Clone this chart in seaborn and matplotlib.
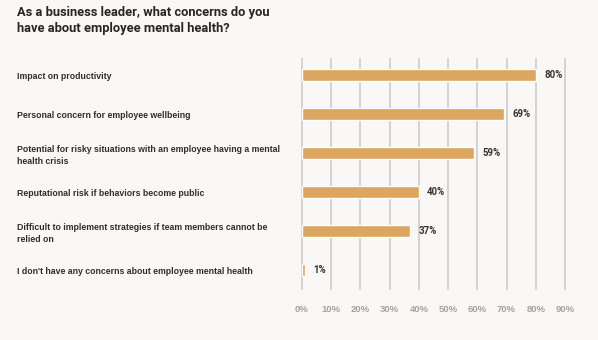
import matplotlib
matplotlib.use("Agg")
import matplotlib.pyplot as plt
import seaborn as sns
import pandas as pd

categories = [
    "Impact on productivity",
    "Personal concern for employee wellbeing",
    "Potential for risky situations with an employee having a mental\nhealth crisis",
    "Reputational risk if behaviors become public",
    "Difficult to implement strategies if team members cannot be\nrelied on",
    "I don't have any concerns about employee mental health",
]
values = [80, 69, 59, 40, 37, 1]
tick_values = [0, 10, 20, 30, 40, 50, 60, 70, 80, 90]
tick_labels = [f"{v}%" for v in tick_values]
title = "As a business leader, what concerns do you\nhave about employee mental health?"

df = pd.DataFrame({"concern": categories, "pct": values})

BG = "#f9f8f6"
BAR = "#dca560"
GRID = "#d2d2d2"

sns.set_theme(style="white")
plt.rcParams["font.family"] = ["Liberation Sans", "DejaVu Sans"]

fig = plt.figure(figsize=(5.98, 3.40), dpi=100, facecolor=BG)
W, H = 598, 340
ax = fig.add_axes([301 / W, 1 - 290 / H, (566 - 301) / W, (290 - 58) / H])
ax.set_facecolor(BG)

sns.barplot(data=df, x="pct", y="concern", color=BAR, width=0.31,
            saturation=1, ax=ax, zorder=3)

ax.set_xlim(-0.3, 90.3)
ax.set_ylim(5.51, -0.44)
ax.set_xticks(tick_values)
ax.set_xticklabels(tick_labels)
ax.grid(axis="x", color=GRID, linewidth=1.4, zorder=0)
ax.grid(axis="y", visible=False)
for s in ax.spines.values():
    s.set_visible(False)
ax.set_xlabel("")
ax.set_ylabel("")

ax.tick_params(axis="x", length=4, width=1.4, color=GRID, pad=7,
               labelsize=6.8, labelcolor="#a3a3a3")
for t in ax.get_xticklabels():
    t.set_fontweight("bold")

ax.tick_params(axis="y", length=0, pad=(301 - 17) * 72 / 100,
               labelsize=6.3, labelcolor="#2e2e2e")
for t in ax.get_yticklabels():
    t.set_ha("left")
    t.set_fontweight("bold")
    t.set_linespacing(1.4)

for c in ax.containers:
    ax.bar_label(c, labels=[f"{v}%" for v in values], padding=6,
                 fontsize=6.9, fontweight="bold", color="#333333",
                 family=["Roboto", "DejaVu Sans"])

fig.text(17 / W, 1 - 6 / H, title, ha="left", va="top", fontsize=9.3,
         fontweight="bold", color="#262626", linespacing=1.33,
         family=["Roboto", "DejaVu Sans"])

fig.savefig("out.png", dpi=100, facecolor=BG)
